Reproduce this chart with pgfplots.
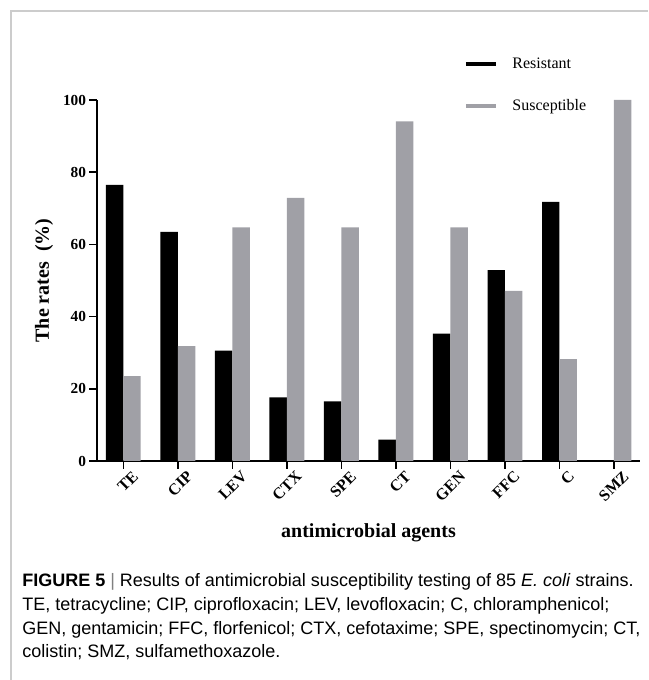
\documentclass[border=0pt]{standalone}
\usepackage{pgfplots}
\pgfplotsset{compat=1.18}
\usepackage{fontspec}
\setmainfont{Liberation Serif}
\newfontfamily\capfont{Liberation Sans}
\definecolor{susc}{RGB}{160,160,166}
\definecolor{framegray}{RGB}{204,204,204}
\begin{document}
\begin{tikzpicture}
\useasboundingbox (0pt,0pt) rectangle (486pt,510pt);
\draw[framegray, line width=1.2pt] (8.25pt,0pt) -- (8.25pt,501.75pt) -- (486pt,501.75pt);
\begin{axis}[
  at={(72.75pt,164.25pt)}, anchor=south west,
  scale only axis, width=407.25pt, height=270.75pt,
  xmin=-0.482, xmax=9.477, ymin=0, ymax=100,
  axis x line*=bottom, axis y line*=left,
  axis line style={line width=1.1pt, -},
  every tick/.style={line width=1.1pt, black},
  major tick length=6pt, tick align=outside,
  xtick={0,...,9},
  xticklabels={TE,CIP,LEV,CTX,SPE,CT,GEN,FFC,C,SMZ},
  ytick={0,20,40,60,80,100},
  /pgf/number format/assume math mode=true,
  x tick label style={font=\fontsize{12}{14}\selectfont\bfseries, rotate=45, anchor=east, inner sep=0pt, xshift=4pt, yshift=-9pt},
  y tick label style={font=\fontsize{11.5}{13}\selectfont\bfseries, inner sep=2pt},
  xlabel={antimicrobial agents},
  ylabel={The rates\ \ (\%)},
  xlabel style={font=\fontsize{15}{17}\selectfont\bfseries, at={(axis description cs:0.5,-0.2)}, anchor=center},
  ylabel style={font=\fontsize{15}{17}\selectfont\bfseries, at={(axis description cs:-0.0976,0.5)}, anchor=center},
  legend style={draw=none, fill=none, at={(axis description cs:0.675,1.125)}, anchor=north west,
    font=\fontsize{12}{14}\selectfont, row sep=17.5pt, inner sep=0pt},
  legend cell align=left,
  clip=false,
]
\addplot[ybar, bar width=0.32, bar shift=-0.16, fill=black, draw=none,
  legend image code/.code={\draw[black, line width=3pt] (0pt,0pt) -- (22.5pt,0pt);}]
  coordinates {(0,76.5) (1,63.5) (2,30.6) (3,17.6) (4,16.5) (5,5.9) (6,35.3) (7,52.9) (8,71.8) (9,0)};
\addlegendentry{\hspace{9pt}Resistant}
\addplot[ybar, bar width=0.32, bar shift=0.16, fill=susc, draw=none,
  legend image code/.code={\draw[susc, line width=3pt] (0pt,0pt) -- (22.5pt,0pt);}]
  coordinates {(0,23.5) (1,31.8) (2,64.7) (3,72.9) (4,64.7) (5,94.1) (6,64.7) (7,47.1) (8,28.2) (9,100)};
\addlegendentry{\hspace{9pt}Susceptible}
\end{axis}
\node[anchor=base west, inner sep=0pt, font=\capfont\fontsize{13.5}{15}\selectfont] at (16.5pt,69.75pt)
  {\textbf{FIGURE 5}\ {\color{gray}|}\ Results of antimicrobial susceptibility testing of 85 \textit{E. coli} strains.};
\node[anchor=base west, inner sep=0pt, font=\capfont\fontsize{13.5}{15}\selectfont] at (16.5pt,51.75pt)
  {TE, tetracycline; CIP, ciprofloxacin; LEV, levofloxacin; C, chloramphenicol;};
\node[anchor=base west, inner sep=0pt, font=\capfont\fontsize{13.5}{15}\selectfont] at (16.5pt,34.125pt)
  {GEN, gentamicin; FFC, florfenicol; CTX, cefotaxime; SPE, spectinomycin; CT,};
\node[anchor=base west, inner sep=0pt, font=\capfont\fontsize{13.5}{15}\selectfont] at (16.5pt,16.5pt)
  {colistin; SMZ, sulfamethoxazole.};
\end{tikzpicture}
\end{document}
